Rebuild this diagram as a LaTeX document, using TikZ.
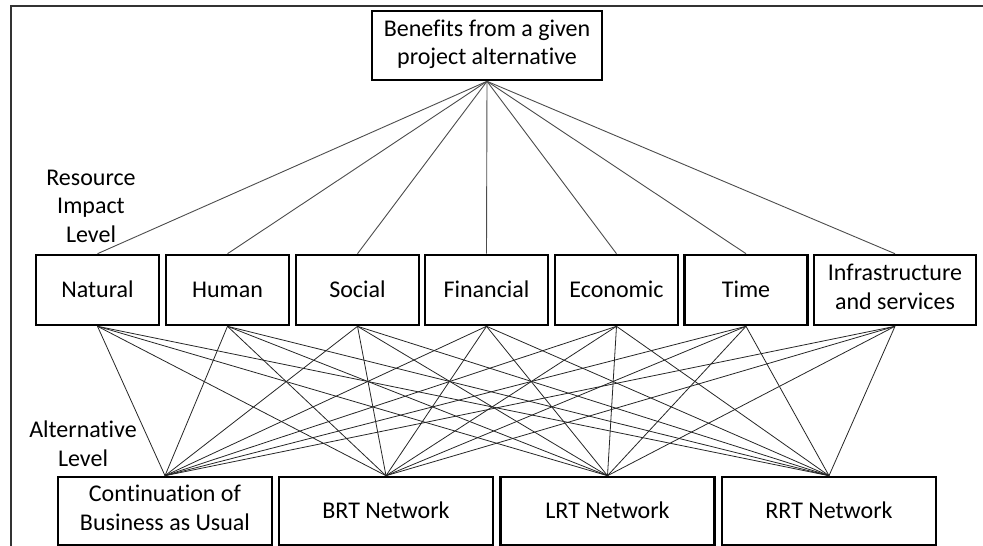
\documentclass[tikz,border=0pt]{standalone}
\usepackage{fontspec}
\setmainfont{Carlito}[Ligatures={NoCommon}]
\newcommand{\boxstrut}{\rule[-6.5pt]{0pt}{28.5pt}}
\begin{document}
\begin{tikzpicture}[x=1pt,y=-1pt,
  box/.style={draw=black,line width=2.6pt,inner sep=0pt,align=center,
    font=\fontsize{24}{28.5}\selectfont,
    execute at begin node={\boxstrut}, execute at end node={\boxstrut}},
  resbox/.style={box,minimum width=123pt,minimum height=70pt},
  altbox/.style={box,minimum width=214pt,minimum height=68pt},
  upline/.style={draw=black!70,line width=0.9pt},
  lowline/.style={draw=black!85,line width=0.8pt},
  lbl/.style={align=center,inner sep=0pt,font=\fontsize{24}{28.5}\selectfont}]
\useasboundingbox (0,0) rectangle (983,546);
\begin{scope}
\clip (0,0) rectangle (983,546);
\draw[black!80,line width=1.5pt] (11,560) -- (11,6) -- (1000,6);
\end{scope}
\node[box,minimum width=230pt,minimum height=69pt] (top) at (487,45.5) {Benefits from a given\\project alternative};
\node[resbox] (nat) at (97.5,290) {Natural};
\node[resbox] (hum) at (227.5,290) {Human};
\node[resbox] (soc) at (357.5,290) {Social};
\node[resbox] (fin) at (486.5,290) {Financial};
\node[resbox] (eco) at (616.5,290) {Economic};
\node[resbox] (tim) at (746,290) {Time};
\node[box,minimum width=162pt,minimum height=70pt] (inf) at (895,290) {Infrastructure\\and services};
\node[altbox] (bau) at (165,511) {Continuation of\\Business as Usual};
\node[altbox] (brt) at (386,511) {BRT Network};
\node[altbox] (lrt) at (607.5,511) {LRT Network};
\node[altbox] (rrt) at (829,511) {RRT Network};
\node[lbl] (rlbl) at (91,206) {Resource\\Impact\\Level};
\node[lbl] (albl) at (83,443.5) {Alternative\\Level};
\foreach \r in {nat,hum,soc,fin,eco,tim,inf}{
  \draw[upline] (top.south) -- (\r.north);
  \foreach \a in {bau,brt,lrt,rrt}{
    \draw[lowline] (\r.south) -- (\a.north);
  }
}
\end{tikzpicture}
\end{document}
